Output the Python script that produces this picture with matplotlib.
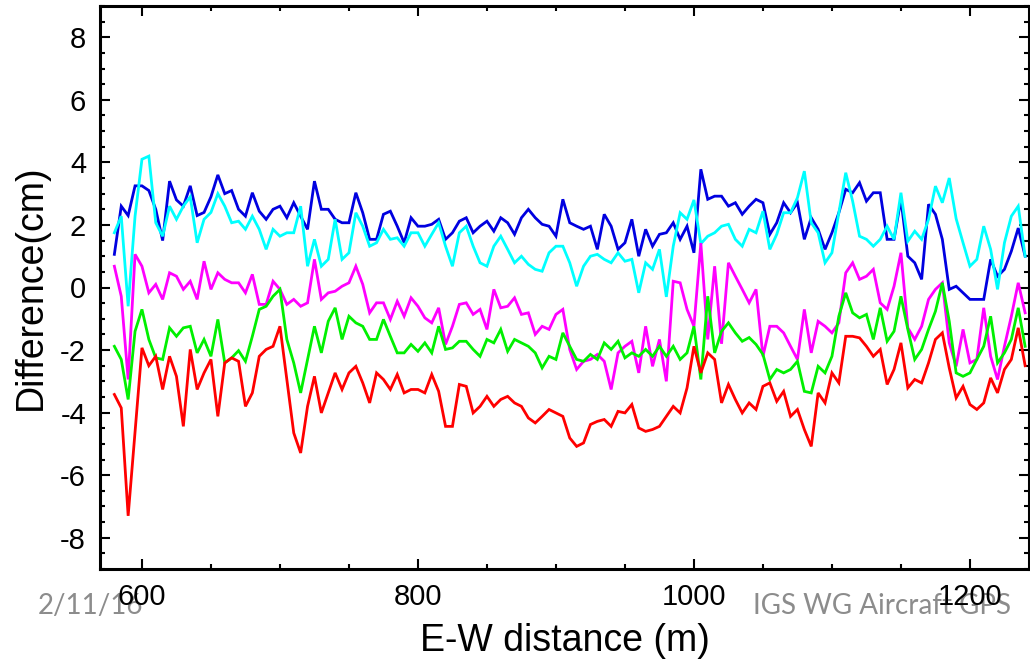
import numpy as np
import matplotlib

matplotlib.use("Agg")
import matplotlib.pyplot as plt
from matplotlib.ticker import MultipleLocator

# E-W distance grid (m), one reading every 5 m
DIST = np.arange(580, 1245, 5)

BLUE = [
    1.06, 2.6, 2.3, 3.25, 3.25, 3.1, 2.5, 1.5, 3.4, 2.8, 2.6, 3.25, 2.3, 2.4, 2.9, 3.6, 3.0, 3.1,
    2.5, 2.28, 3.03, 2.44, 2.18, 2.5, 2.6, 2.23, 2.71, 2.28, 1.86, 3.4, 2.5, 2.5, 2.18, 2.07, 2.07, 3.03, 2.39, 1.54,
    1.54, 2.34, 2.44, 1.96, 1.43, 2.23, 1.96, 1.96, 2.02, 2.18, 1.54, 1.75, 2.12, 2.23, 1.75, 1.96, 2.12, 1.8, 2.23,
    2.07, 1.7, 2.23, 2.5, 2.23, 2.02, 1.96, 1.64, 2.82, 2.07, 1.96, 1.86, 1.96, 1.22, 2.34, 1.96, 1.22, 1.43, 2.18, 1.0,
    1.86, 1.32, 1.7, 1.75, 2.07, 1.54, 1.96, 1.11, 3.78, 2.82, 2.92, 2.92, 2.6, 2.71, 2.34, 2.6, 2.82, 2.71, 1.7,
    2.07, 2.71, 2.39, 2.71, 1.54, 2.23, 1.86, 1.22, 1.75, 2.39, 3.14, 3.03, 3.35, 2.76, 3.03, 3.03, 1.54, 1.54, 2.82, 1.0,
    0.79, 0.26, 2.66, 2.34, 1.54, -0.06, 0.04, -0.17, -0.38, -0.38, -0.38, 0.9, 0.36, 0.58, 1.16, 1.9, 1.0,
]
CYAN = [
    1.75, 2.28, -0.6, 2.28, 4.1, 4.2, 2.07, 1.64, 2.6, 2.18, 2.6, 2.9, 1.43, 2.18, 2.4, 3.0, 2.6, 2.07,
    2.12, 1.86, 2.28, 1.86, 1.22, 1.86, 1.64, 1.75, 1.75, 2.6, 0.68, 1.54, 0.68, 0.9, 2.18, 0.9, 1.11, 2.39, 1.96, 1.32,
    1.43, 1.86, 1.54, 1.59, 1.32, 1.75, 1.75, 1.32, 1.7, 2.07, 1.32, 0.68, 1.75, 1.96, 1.32, 0.79, 0.68, 1.32, 1.64,
    1.22, 0.79, 1.0, 0.74, 0.58, 0.52, 1.11, 1.32, 1.32, 0.79, 0.04, 0.68, 1.0, 1.06, 0.9, 0.79, 1.11, 0.84, 0.9, -0.17,
    0.79, 0.58, 1.22, -0.3, 1.32, 2.39, 2.18, 2.8, 1.4, 1.64, 1.75, 1.96, 2.02, 1.54, 1.32, 1.86, 1.75, 2.44, 1.22,
    1.7, 2.39, 2.39, 2.87, 3.72, 2.07, 1.75, 0.79, 1.11, 2.39, 3.67, 2.76, 1.64, 1.54, 1.32, 1.54, 1.96, 1.54, 3.03, 1.48,
    1.8, 1.54, 2.18, 3.24, 2.71, 3.5, 2.2, 1.43, 0.68, 0.9, 1.96, 1.22, -0.06, 1.43, 2.28, 2.6, 1.0,
]
MAGENTA = [
    0.68, -0.28, -2.94, 1.06, 0.68, -0.17, 0.1, -0.38, 0.47, 0.36, -0.06, 0.2, -0.38, 0.84, -0.06, 0.47, 0.26, 0.15,
    0.15, -0.17, 0.42, -0.54, -0.54, 0.2, -0.06, -0.54, -0.38, -0.6, -0.49, 0.9, -0.38, -0.17, -0.12, 0.04, 0.15, 0.68, 0.1, -0.81,
    -0.49, -0.49, -1.02, -0.44, -0.92, -0.33, -0.6, -0.97, -1.13, -0.65, -1.82, -1.24, -0.54, -0.49, -0.86, -0.7, -1.34, -0.06, -0.65,
    -0.6, -0.33, -0.86, -0.81, -1.5, -1.24, -1.34, -0.86, -0.7, -1.98, -2.62, -2.36, -2.3, -2.14, -2.36, -3.26, -2.09, -1.88, -1.72, -2.73,
    -1.24, -2.52, -1.66, -3.0, 0.2, 0.15, -0.7, -1.24, 1.42, -1.66, 0.68, -1.8, 0.79, 0.36, -0.06, -0.49, -0.06, -2.2, -1.24,
    -1.24, -1.45, -1.88, -2.3, -0.7, -2.09, -1.08, -1.24, -1.45, -1.13, 0.47, 0.79, 0.26, 0.36, 0.58, -0.49, -0.7, 0.04, 1.11, -1.29,
    -1.66, -1.24, -0.38, -0.06, 0.15, -1.77, -2.52, -1.34, -2.41, -2.3, -0.65, -2.2, -2.94, -1.88, -0.92, 0.15, -0.81,
]
GREEN = [
    -1.88, -2.3, -3.58, -1.4, -0.7, -1.66, -2.25, -2.3, -1.29, -1.56, -1.29, -1.24, -2.09, -1.66, -2.2, -1.02, -2.41, -2.25,
    -2.02, -2.36, -1.56, -0.7, -0.6, -0.28, -0.06, -1.66, -2.41, -3.37, -2.3, -1.24, -2.09, -1.08, -0.65, -1.66, -0.92, -1.13, -1.24, -1.66,
    -1.66, -1.02, -1.56, -2.09, -2.09, -1.82, -2.04, -1.77, -2.09, -1.24, -1.98, -1.93, -1.72, -1.72, -1.98, -2.2, -1.66, -1.77, -1.34,
    -2.04, -1.66, -1.77, -1.88, -2.09, -2.57, -2.2, -2.3, -1.45, -1.88, -2.3, -2.36, -2.14, -2.3, -1.77, -1.98, -1.72, -2.25, -2.09, -2.2,
    -1.98, -2.2, -1.88, -2.2, -1.88, -2.3, -2.09, -1.24, -2.94, -0.28, -2.09, -1.4, -1.13, -1.45, -1.72, -1.6, -1.82, -2.14, -2.94,
    -2.62, -2.73, -2.62, -2.36, -3.32, -3.37, -2.52, -2.73, -2.2, -0.92, -0.17, -0.81, -0.97, -0.86, -1.66, -0.65, -1.72, -1.4, -0.28, -1.34,
    -2.3, -1.98, -1.34, -0.76, 0.15, -1.08, -2.73, -2.84, -2.73, -2.3, -1.88, -0.92, -2.41, -2.09, -1.66, -0.65, -1.88,
]
RED = [
    -3.42, -3.85, -7.3, -4.6, -1.93, -2.5, -2.2, -3.26, -2.2, -2.84, -4.44, -1.98, -3.26, -2.73, -2.3, -4.12, -2.41, -2.25,
    -2.36, -3.8, -3.37, -2.2, -1.98, -1.88, -1.24, -2.94, -4.65, -5.29, -3.8, -2.84, -4.01, -3.37, -2.73, -3.26, -2.73, -2.52, -3.05, -3.69,
    -2.73, -2.94, -3.26, -2.78, -3.37, -3.26, -3.26, -3.37, -2.78, -3.32, -4.44, -4.44, -3.1, -3.16, -4.01, -3.8, -3.48, -3.8, -3.58,
    -3.48, -3.69, -3.8, -4.17, -4.33, -4.12, -3.9, -4.01, -4.12, -4.81, -5.08, -4.97, -4.38, -4.28, -4.22, -4.44, -3.96, -4.01, -3.74, -4.49,
    -4.6, -4.54, -4.44, -4.12, -3.8, -4.01, -3.21, -1.88, -2.73, -2.09, -2.3, -3.69, -3.1, -3.58, -4.01, -3.69, -3.9, -3.16, -3.05,
    -3.64, -3.32, -4.12, -3.9, -4.54, -5.08, -3.37, -3.69, -2.73, -3.05, -1.56, -1.56, -1.61, -1.88, -2.2, -1.98, -3.1, -2.62, -1.77, -3.21,
    -2.94, -3.05, -2.41, -1.66, -1.45, -2.57, -3.53, -3.16, -3.74, -3.9, -3.69, -2.89, -3.37, -2.62, -2.3, -1.29, -2.5,
]

SERIES = [
    (BLUE, "#0000E0"),
    (CYAN, "#00FFFF"),
    (MAGENTA, "#FF00FF"),
    (GREEN, "#00F000"),
    (RED, "#FF0000"),
]

plt.rcParams["font.family"] = ["Liberation Sans", "DejaVu Sans"]
plt.rcParams["axes.unicode_minus"] = False

fig = plt.figure(figsize=(10.30, 6.61), dpi=100)
ax = fig.add_axes([100 / 1030, 92 / 661, 929 / 1030, 563 / 661])

for values, color in SERIES:
    ax.plot(DIST, values, color=color, lw=2.0, solid_joinstyle="miter")

ax.set_xlim(569.6, 1242.8)
ax.set_ylim(-9, 9)
ax.xaxis.set_major_locator(MultipleLocator(200))
ax.xaxis.set_minor_locator(MultipleLocator(50))
ax.yaxis.set_major_locator(MultipleLocator(2))
ax.yaxis.set_minor_locator(MultipleLocator(0.5))
ax.tick_params(which="both", direction="in", top=True, right=True, width=1.5, labelsize=21)
ax.tick_params(which="major", length=7, pad=10)
ax.tick_params(which="minor", length=3.5)
for spine in ax.spines.values():
    spine.set_linewidth(2.2)

ax.set_xlabel("E-W distance (m)", fontsize=27, labelpad=9)
ax.set_ylabel("Difference(cm)", fontsize=27, labelpad=8)

fig.text(38 / 1030, 1 - 606 / 661, "2/11/16", fontsize=20, color="#8c8c8c",
         family=["Lato", "DejaVu Sans"], va="center", ha="left", zorder=-1)
fig.text(753 / 1030, 1 - 606 / 661, "IGS WG Aircraft GPS", fontsize=20, color="#8c8c8c",
         family=["Lato", "DejaVu Sans"], va="center", ha="left", zorder=-1)

fig.savefig("out.png", dpi=100)
